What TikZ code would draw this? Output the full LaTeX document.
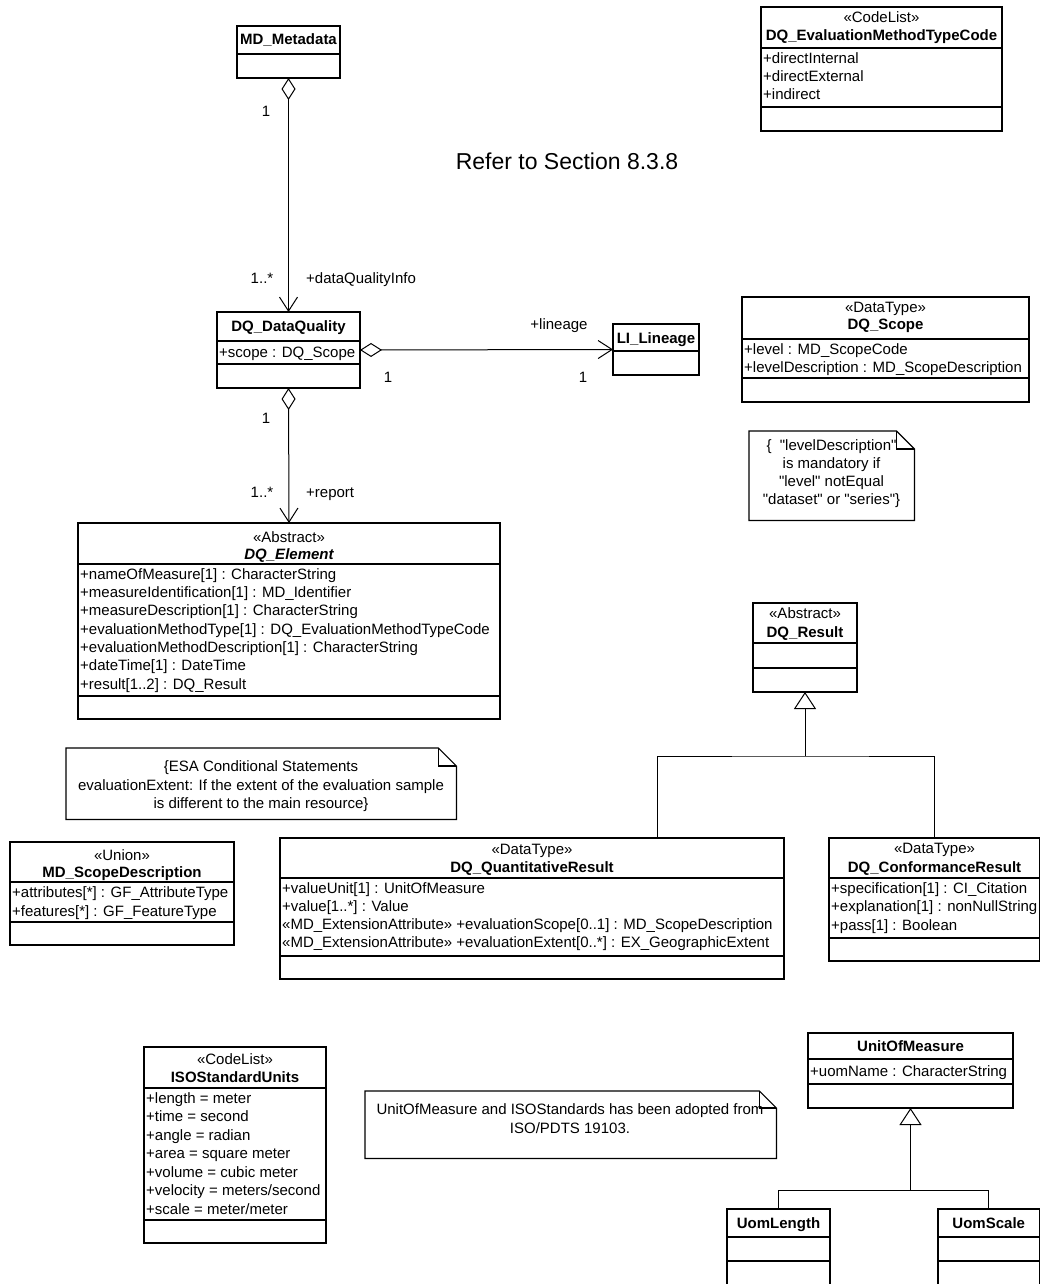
\documentclass[tikz,border=0pt]{standalone}
\usepackage{fontspec}
\setmainfont{Liberation Sans}[Ligatures=TeXOff]
\usetikzlibrary{arrows.meta}
\begin{document}
\begin{tikzpicture}[x=1pt,y=-1pt,
  ubox/.style={draw=black, line width=1.2pt, fill=white, inner sep=0pt, outer sep=0pt, anchor=north west},
  usep/.style={draw=black, line width=1.2pt},
  conn/.style={draw=black, line width=1pt},
  txt/.style={font=\fontsize{15}{18}\selectfont, inner sep=0pt},
  stereo/.style={txt, anchor=base},
  cname/.style={txt, font=\fontsize{15}{18}\selectfont\bfseries, anchor=base},
  attr/.style={txt, anchor=base west},
  lbl/.style={txt, anchor=base},
  lblw/.style={txt, anchor=base west},
  agg/.style={{Diamond[open,length=22pt,width=14pt]}-{Straight Barb[length=14pt,width=18pt]}},
  gen/.style={-{Triangle[open,length=17pt,width=22pt,fill=white]}}
]
\path[use as bounding box] (0,0) rectangle (1041,1284);
\clip (0,0) rectangle (1041,1284);

% ---------- MD_Metadata ----------
\node[ubox, minimum width=103, minimum height=52] (md) at (237,26) {};
\draw[usep] (237,54) -- (340,54);
\node[cname] (mdN) at (288.5,45) {MD\_Metadata};

% ---------- DQ_EvaluationMethodTypeCode ----------
\node[ubox, minimum width=241, minimum height=124] (emt) at (761,7) {};
\draw[usep] (761,48) -- (1002,48);
\draw[usep] (761,107) -- (1002,107);
\node[stereo] (emtS) at (881.5,23) {«CodeList»};
\node[cname] (emtN) at (881.5,41) {DQ\_EvaluationMethodTypeCode};
\node[attr] (emtA1) at (763,64) {+directInternal};
\node[attr] (emtA2) at (763,82) {+directExternal};
\node[attr] (emtA3) at (763,100) {+indirect};

% ---------- section reference ----------
\node[txt, font=\fontsize{23}{27}\selectfont, anchor=base] (ref) at (567,170) {Refer to Section 8.3.8};

% ---------- DQ_DataQuality ----------
\node[ubox, minimum width=143, minimum height=76] (dqdq) at (217,312) {};
\draw[usep] (217,341) -- (360,341);
\draw[usep] (217,364) -- (360,364);
\node[cname] (dqdqN) at (288.5,331) {DQ\_DataQuality};
\node[attr] (dqdqA1) at (219,357) {+scope : DQ\_Scope};

% ---------- LI_Lineage ----------
\node[ubox, minimum width=86, minimum height=51] (lil) at (613,324) {};
\draw[usep] (613,351) -- (699,351);
\node[cname] (lilN) at (656,343) {LI\_Lineage};

% ---------- DQ_Scope ----------
\node[ubox, minimum width=287, minimum height=105] (scope) at (742,297) {};
\draw[usep] (742,339) -- (1029,339);
\draw[usep] (742,378) -- (1029,378);
\node[stereo] (scopeS) at (885.5,312) {«DataType»};
\node[cname] (scopeN) at (885.5,329) {DQ\_Scope};
\node[attr] (scopeA1) at (744,354) {+level : MD\_ScopeCode};
\node[attr] (scopeA2) at (744,372) {+levelDescription : MD\_ScopeDescription};

% ---------- note on levelDescription ----------
\node[inner sep=0pt, minimum width=165, minimum height=89, anchor=north west] (note1) at (749,431) {};
\draw[usep, fill=white] (note1.north west) -- ([xshift=-18pt]note1.north east) -- ([yshift=-18pt]note1.north east)
  -- (note1.south east) -- (note1.south west) -- cycle;
\draw[usep] ([xshift=-18pt]note1.north east) |- ([yshift=-18pt]note1.north east);
\node[lbl] (note1L1) at (831.5,450) {\{\ \ "levelDescription"};
\node[lbl] (note1L2) at (831.5,468) {is mandatory if};
\node[lbl] (note1L3) at (831.5,486) {"level" notEqual};
\node[lbl] (note1L4) at (831.5,504) {"dataset" or "series"\}};

% ---------- DQ_Element ----------
\node[ubox, minimum width=422, minimum height=196] (dqel) at (78,523) {};
\draw[usep] (78,564) -- (500,564);
\draw[usep] (78,696) -- (500,696);
\node[stereo] (dqelS) at (289,542) {«Abstract»};
\node[cname, font=\fontsize{15}{18}\selectfont\bfseries\itshape] (dqelN) at (289,559) {DQ\_Element};
\node[attr] (dqelA1) at (80,579) {+nameOfMeasure[1] : CharacterString};
\node[attr] (dqelA2) at (80,597.3) {+measureIdentification[1] : MD\_Identifier};
\node[attr] (dqelA3) at (80,615.7) {+measureDescription[1] : CharacterString};
\node[attr] (dqelA4) at (80,634) {+evaluationMethodType[1] : DQ\_EvaluationMethodTypeCode};
\node[attr] (dqelA5) at (80,652.3) {+evaluationMethodDescription[1] : CharacterString};
\node[attr] (dqelA6) at (80,670.7) {+dateTime[1] : DateTime};
\node[attr] (dqelA7) at (80,689) {+result[1..2] : DQ\_Result};

% ---------- ESA note ----------
\node[inner sep=0pt, minimum width=390, minimum height=71, anchor=north west] (note2) at (66,748) {};
\draw[usep, fill=white] (note2.north west) -- ([xshift=-18pt]note2.north east) -- ([yshift=-18pt]note2.north east)
  -- (note2.south east) -- (note2.south west) -- cycle;
\draw[usep] ([xshift=-18pt]note2.north east) |- ([yshift=-18pt]note2.north east);
\node[lbl] (note2L1) at (261,771.5) {\{ESA Conditional Statements};
\node[lbl] (note2L2) at (261,790) {evaluationExtent: If the extent of the evaluation sample};
\node[lbl] (note2L3) at (261,808.5) {is different to the main resource\}};

% ---------- MD_ScopeDescription ----------
\node[ubox, minimum width=224, minimum height=103] (msd) at (10,842) {};
\draw[usep] (10,882) -- (234,882);
\draw[usep] (10,922) -- (234,922);
\node[stereo] (msdS) at (122,860) {«Union»};
\node[cname] (msdN) at (122,877) {MD\_ScopeDescription};
\node[attr] (msdA1) at (12,897) {+attributes[*] : GF\_AttributeType};
\node[attr] (msdA2) at (12,916) {+features[*] : GF\_FeatureType};

% ---------- DQ_Result ----------
\node[ubox, minimum width=104, minimum height=89] (dqres) at (753,603) {};
\draw[usep] (753,643) -- (857,643);
\draw[usep] (753,668) -- (857,668);
\node[stereo] (dqresS) at (805,618) {«Abstract»};
\node[cname] (dqresN) at (805,637) {DQ\_Result};

% ---------- DQ_QuantitativeResult ----------
\node[ubox, minimum width=504, minimum height=141] (qr) at (280,838) {};
\draw[usep] (280,878) -- (784,878);
\draw[usep] (280,956) -- (784,956);
\node[stereo] (qrS) at (532,854) {«DataType»};
\node[cname] (qrN) at (532,872) {DQ\_QuantitativeResult};
\node[attr] (qrA1) at (282,893) {+valueUnit[1] : UnitOfMeasure};
\node[attr] (qrA2) at (282,911) {+value[1..*] : Value};
\node[attr] (qrA3) at (282,929.5) {«MD\_ExtensionAttribute» +evaluationScope[0..1] : MD\_ScopeDescription};
\node[attr] (qrA4) at (282,947.5) {«MD\_ExtensionAttribute» +evaluationExtent[0..*] : EX\_GeographicExtent};

% ---------- DQ_ConformanceResult ----------
\node[ubox, minimum width=210.5, minimum height=123] (cr) at (829,838) {};
\draw[usep] (829,878) -- (1039.5,878);
\draw[usep] (829,938) -- (1039.5,938);
\node[stereo] (crS) at (934.5,853) {«DataType»};
\node[cname] (crN) at (934.5,872) {DQ\_ConformanceResult};
\node[attr] (crA1) at (831,893) {+specification[1] : CI\_Citation};
\node[attr] (crA2) at (831,911.5) {+explanation[1] : nonNullString};
\node[attr] (crA3) at (831,930) {+pass[1] : Boolean};

% ---------- ISOStandardUnits ----------
\node[ubox, minimum width=182, minimum height=196] (isu) at (144,1047) {};
\draw[usep] (144,1088) -- (326,1088);
\draw[usep] (144,1220) -- (326,1220);
\node[stereo] (isuS) at (235,1064) {«CodeList»};
\node[cname] (isuN) at (235,1082) {ISOStandardUnits};
\node[attr] (isuA1) at (146,1103) {+length = meter};
\node[attr] (isuA2) at (146,1121.5) {+time = second};
\node[attr] (isuA3) at (146,1140) {+angle = radian};
\node[attr] (isuA4) at (146,1158.5) {+area = square meter};
\node[attr] (isuA5) at (146,1177) {+volume = cubic meter};
\node[attr] (isuA6) at (146,1195.5) {+velocity = meters/second};
\node[attr] (isuA7) at (146,1214) {+scale = meter/meter};

% ---------- note on adopted units ----------
\node[inner sep=0pt, minimum width=411, minimum height=67, anchor=north west] (note3) at (365,1091) {};
\draw[usep, fill=white] (note3.north west) -- ([xshift=-17pt]note3.north east) -- ([yshift=-17pt]note3.north east)
  -- (note3.south east) -- (note3.south west) -- cycle;
\draw[usep] ([xshift=-17pt]note3.north east) |- ([yshift=-17pt]note3.north east);
\node[lbl] (note3L1) at (570,1114) {UnitOfMeasure and ISOStandards has been adopted from};
\node[lbl] (note3L2) at (570,1133) {ISO/PDTS 19103.};

% ---------- UnitOfMeasure and subclasses ----------
\node[ubox, minimum width=205, minimum height=75] (uom) at (808,1033) {};
\draw[usep] (808,1059) -- (1013,1059);
\draw[usep] (808,1084) -- (1013,1084);
\node[cname] (uomN) at (910.5,1051.5) {UnitOfMeasure};
\node[attr] (uomA1) at (810,1076) {+uomName : CharacterString};

\node[ubox, minimum width=103, minimum height=85] (uoml) at (727,1209) {};
\draw[usep] (727,1237) -- (830,1237);
\draw[usep] (727,1261) -- (830,1261);
\node[cname] (uomlN) at (778.5,1228) {UomLength};

\node[ubox, minimum width=101.5, minimum height=85] (uoms) at (938,1209) {};
\draw[usep] (938,1237) -- (1039.5,1237);
\draw[usep] (938,1261) -- (1039.5,1261);
\node[cname] (uomsN) at (988.75,1228) {UomScale};

% ---------- associations ----------
\draw[conn, agg] (md.south) -- (dqdq.north);
\draw[conn, agg] (dqdq.east) -- (lil.west);
\draw[conn, agg] (dqdq.south) -- (dqel.north);

\node[lbl] (m1) at (266,117) {1};
\node[lbl] (m2) at (262,283) {1..*};
\node[lblw] (r1) at (306,283) {+dataQualityInfo};
\node[lbl] (r2) at (559,329) {+lineage};
\node[lbl] (m3) at (388,382) {1};
\node[lbl] (m4) at (583,382) {1};
\node[lbl] (m5) at (266,423) {1};
\node[lbl] (m6) at (262,497) {1..*};
\node[lblw] (r3) at (306,497) {+report};

% ---------- generalisations ----------
\coordinate (gj1) at (805,756);
\coordinate (qrTop) at (657,838);
\draw[conn] (qrTop) |- (gj1) -| (cr.north);
\draw[conn, gen] (gj1) -- (dqres.south);

\coordinate (gj2) at (910.5,1190);
\draw[conn] (uoml.north) |- (gj2) -| (uoms.north);
\draw[conn, gen] (gj2) -- (uom.south);
\end{tikzpicture}
\end{document}
